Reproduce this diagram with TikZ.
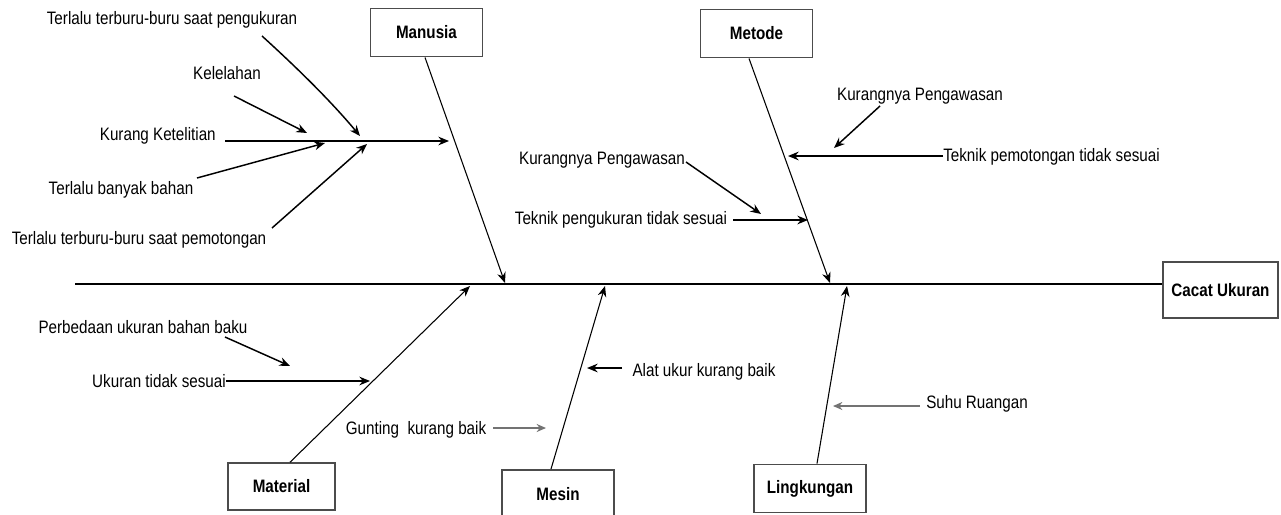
\documentclass[tikz,border=0pt]{standalone}
\usepackage{fontspec}
\setmainfont{Liberation Sans}[FakeStretch=0.845]
\usetikzlibrary{arrows.meta,calc}

\begin{document}
\begin{tikzpicture}[x=0.75pt,y=-0.75pt,
  box/.style={draw=black!70,line width=1.4pt,fill=white,minimum width=84pt,minimum height=36pt,
    inner sep=0pt,font=\bfseries\fontsize{13.5}{15}\selectfont},
  lbl/.style={inner sep=0pt,font=\fontsize{13.5}{15}\selectfont},
  tip/.style={-{Stealth[length=8pt,width=6.5pt]}},
  spine/.style={line width=1.1pt},
  bone/.style={line width=0.8pt,tip},
  cause/.style={line width=1.1pt,tip},
  faint/.style={line width=1.8pt,draw=black!55,-{Stealth[length=7pt,width=6pt,fill=black]}},
]
\useasboundingbox (0,0) rectangle (1281,514);

% category boxes and the effect box
\node[box] (manusia) at (426.5,32.5) {Manusia};
\node[box] (metode) at (756.5,33.5) {Metode};
\node[box,minimum width=80pt,minimum height=35pt] (material) at (281.5,486.5) {Material};
\node[box] (mesin) at (558,494) {Mesin};
\node[box] (lingkungan) at (810,488.5) {Lingkungan};
\node[box,minimum width=86pt,minimum height=42pt] (cacat) at (1220.5,290) {Cacat Ukuran};

% spine
\coordinate (tail) at (75,284);
\draw[spine] (tail) -- (tail -| cacat.west);

% main bones
\coordinate (hManusia) at (505,283);
\coordinate (hMetode) at (830,283);
\coordinate (hMaterial) at (470,286);
\coordinate (hMesin) at (605,286);
\coordinate (hLingkungan) at (847,286);
\draw[bone] ($(manusia.south)+(-1.5,0)$) -- (hManusia);
\draw[bone] ($(metode.south)+(-7.5,0)$) -- (hMetode);
\draw[bone] ($(material.north)+(8.5,0)$) -- (hMaterial);
\draw[bone] ($(mesin.north)+(-7,0)$) -- (hMesin);
\draw[bone] ($(lingkungan.north)+(7,0)$) -- (hLingkungan);

% Manusia causes
\node[lbl] (tpeng) at (172,20) {Terlalu terburu-buru saat pengukuran};
\node[lbl] (kel) at (227,73) {Kelelahan};
\node[lbl,anchor=east] (kk) at (216,136) {Kurang Ketelitian};
\node[lbl] (tbb) at (121,190) {Terlalu banyak bahan};
\node[lbl] (tpem) at (139,240) {Terlalu terburu-buru saat pemotongan};

\coordinate (kkA) at (225,141);
\coordinate (kkB) at (449,141);
\draw[cause] (kkA) -- (kkB);

\coordinate (tpengA) at (262,36);
\coordinate (tpengB) at (360,136);
\draw[cause] (tpengA) .. controls (295,66) and (330,100) .. (tpengB);
\coordinate (kelA) at (234,96);
\coordinate (kelB) at (307,133);
\draw[cause] (kelA) -- (kelB);
\coordinate (tbbA) at (197,178);
\coordinate (tbbB) at (325,143);
\draw[cause] (tbbA) -- (tbbB);
\coordinate (tpemA) at (272,228);
\coordinate (tpemB) at (367,144);
\draw[cause] (tpemA) -- (tpemB);

% Metode causes
\node[lbl] (kpR) at (920,96) {Kurangnya Pengawasan};
\node[lbl,anchor=west] (tpt) at (943,157) {Teknik pemotongan tidak sesuai};
\node[lbl] (kpL) at (602,160) {Kurangnya Pengawasan};
\node[lbl] (tpu) at (621,220) {Teknik pengukuran tidak sesuai};

\coordinate (tptB) at (788,156);
\draw[cause] (tpt.west |- tptB) -- (tptB);
\coordinate (kpRA) at (880,106);
\coordinate (kpRB) at (834,148);
\draw[cause] (kpRA) -- (kpRB);
\coordinate (kpLA) at (686,162);
\coordinate (kpLB) at (761,214);
\draw[cause] (kpLA) -- (kpLB);
\coordinate (tpuA) at (733,220);
\coordinate (tpuB) at (808,220);
\draw[cause] (tpuA) -- (tpuB);

% Material causes
\node[lbl] (pub) at (143,327) {Perbedaan ukuran bahan baku};
\node[lbl] (uts) at (159,381) {Ukuran tidak sesuai};
\coordinate (pubA) at (225,337);
\coordinate (pubB) at (290,366);
\draw[cause] (pubA) -- (pubB);
\coordinate (utsB) at (370,381);
\draw[cause] (uts.east) -- (utsB);

% Mesin causes
\node[lbl] (gkb) at (416,430) {Gunting\ \ kurang baik};
\node[lbl] (aukb) at (704,372) {Alat ukur kurang baik};
\coordinate (gkbA) at (493,428);
\coordinate (gkbB) at (546,428);
\draw[faint] (gkbA) -- (gkbB);
\coordinate (aukbA) at (622,368);
\coordinate (aukbB) at (587,368);
\draw[cause] (aukbA) -- (aukbB);

% Lingkungan causes
\node[lbl] (sr) at (977,404) {Suhu Ruangan};
\coordinate (srA) at (920,406);
\coordinate (srB) at (833,406);
\draw[faint] (srA) -- (srB);
\end{tikzpicture}
\end{document}
